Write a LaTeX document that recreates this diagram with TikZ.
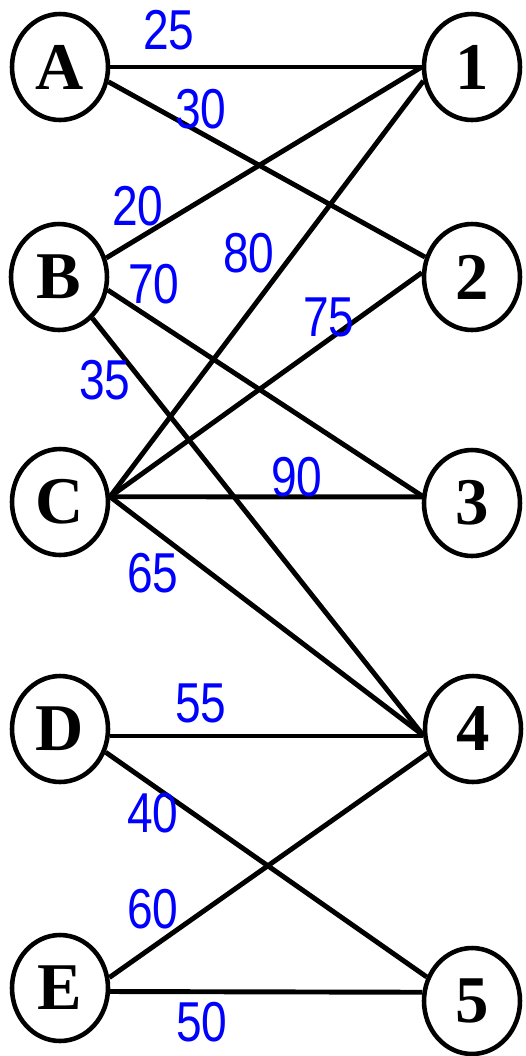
\documentclass[tikz,border=0pt]{standalone}
\usepackage{fontspec}
\usetikzlibrary{shapes.geometric}
\newfontfamily\vtxfont{Liberation Serif}
\newfontfamily\wtfont[FakeStretch=0.82]{Liberation Sans}
\begin{document}
\begin{tikzpicture}[x=0.02cm, y=-0.02cm,
  vtx/.style={draw,ellipse,line width=2.6pt,inner sep=0pt,minimum width=1.92cm,minimum height=2.12cm,
    font=\vtxfont\bfseries\fontsize{38}{40}\selectfont},
  edge/.style={line width=2.8pt},
  wt/.style={text=blue,inner sep=0pt,font=\wtfont\fontsize{32}{34}\selectfont}]
\useasboundingbox (0,0) rectangle (525,1056);
% left side
\node[vtx] (A) at (60,67) {A};
\node[vtx] (B) at (59,277) {B};
\node[vtx] (C) at (60,502) {C};
\node[vtx] (D) at (60,729) {D};
\node[vtx] (E) at (60,988) {E};
% right side
\node[vtx] (1) at (472,67) {1};
\node[vtx] (2) at (472,277) {2};
\node[vtx] (3) at (472,503) {3};
\node[vtx] (4) at (473,729) {4};
\node[vtx] (5) at (472,1001) {5};
% edges
\draw[edge] (A.east) -- (1.west);
\draw[edge] (A.-17) -- (2.157);
\draw[edge] (B.22) -- (1.west);
\draw[edge] (B.-15) -- (3.172);
\draw[edge] (B.-51) -- (4.187);
\draw[edge] (C.6) -- (1.-164);
\draw[edge] (C.6) -- (2.175);
\draw[edge] (C.6) -- (3.173);
\draw[edge] (C.6) -- (4.187);
\draw[edge] (D.-8) -- (4.188);
\draw[edge] (D.-27) -- (5.152);
\draw[edge] (E.12) -- (4.208);
\draw[edge] (E.-4) -- (5.170);
% weights
\node[wt] (wA1) at (169,30) {25};
\node[wt] (wA2) at (201,109) {30};
\node[wt] (wB1) at (138,206) {20};
\node[wt] (wC1) at (249,253) {80};
\node[wt] (wB3) at (154,284) {70};
\node[wt] (wC2) at (329,317) {75};
\node[wt] (wB4) at (105,380) {35};
\node[wt] (wC3) at (297,477) {90};
\node[wt] (wC4) at (153,573) {65};
\node[wt] (wD4) at (201,703) {55};
\node[wt] (wD5) at (153,813) {40};
\node[wt] (wE4) at (153,909) {60};
\node[wt] (wE5) at (202,1022) {50};
\end{tikzpicture}
\end{document}
